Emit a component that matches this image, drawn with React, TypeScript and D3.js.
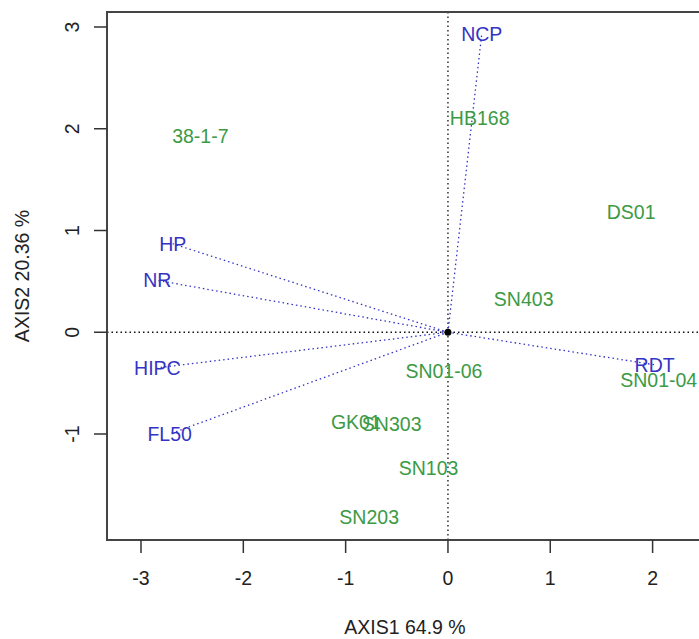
import React from "react";
import * as d3 from "d3";

// individuals (green labels)
const indNames = ["38-1-7", "HB168", "DS01", "SN403", "SN01-06", "SN01-04", "GK01", "SN303", "SN103", "SN203"];
const indX = [-2.42, 0.31, 1.79, 0.74, -0.04, 2.06, -0.9, -0.55, -0.19, -0.77];
const indY = [1.93, 2.11, 1.18, 0.33, -0.38, -0.47, -0.88, -0.9, -1.33, -1.82];

// variables (blue arrows)
const varNames = ["NCP", "HP", "NR", "HIPC", "FL50", "RDT"];
const varX = [0.33, -2.69, -2.84, -2.84, -2.72, 2.02];
const varY = [2.93, 0.87, 0.51, -0.35, -1.0, -0.32];

const xTicks = [-3, -2, -1, 0, 1, 2];
const yTicks = [-1, 0, 1, 2, 3];

const xTitle = "AXIS1 64.9 %";
const yTitle = "AXIS2 20.36 %";

const W = 699;
const H = 639;
const box = { left: 107, right: 703, top: 12, bottom: 540 };

const green = "#3c9a45";
const blue = "#3434c4";
const font = "'Liberation Sans', Arial, Helvetica, sans-serif";

export default function App() {
  const x = d3.scaleLinear().domain([-3, 2]).range([141, 652.6]);
  const y = d3.scaleLinear().domain([-1, 3]).range([434, 27]);

  return (
    <svg
      width={W}
      height={H}
      style={{ position: "absolute", left: 0, top: 0, background: "#fff" }}
      fontFamily={font}
    >
      <defs>
        <clipPath id="plotClip">
          <rect x={box.left} y={box.top} width={box.right - box.left} height={box.bottom - box.top} />
        </clipPath>
      </defs>

      <g clipPath="url(#plotClip)">
        {/* reference lines through origin */}
        <line x1={box.left} x2={box.right} y1={y(0)} y2={y(0)} stroke="#111" strokeDasharray="1.5 3" strokeWidth={1.3} />
        <line x1={x(0)} x2={x(0)} y1={box.top} y2={box.bottom} stroke="#111" strokeDasharray="1.5 3" strokeWidth={1.3} />

        {/* variable arrows */}
        {varNames.map((name, i) => (
          <line
            key={"a" + name}
            x1={x(0)}
            y1={y(0)}
            x2={x(varX[i])}
            y2={y(varY[i])}
            stroke={blue}
            strokeDasharray="1.5 3"
            strokeWidth={1.3}
          />
        ))}

        <circle cx={x(0)} cy={y(0)} r={3.5} fill="#000" />

        {indNames.map((name, i) => (
          <text
            key={"i" + name}
            x={x(indX[i])}
            y={y(indY[i])}
            textAnchor="middle"
            dominantBaseline="central"
            fontSize={19.5}
            fill={green}
          >
            {name}
          </text>
        ))}

        {varNames.map((name, i) => (
          <text
            key={"v" + name}
            x={x(varX[i])}
            y={y(varY[i])}
            textAnchor="middle"
            dominantBaseline="central"
            fontSize={19.5}
            fill={blue}
          >
            {name}
          </text>
        ))}
      </g>

      <rect
        x={box.left}
        y={box.top}
        width={box.right - box.left}
        height={box.bottom - box.top}
        fill="none"
        stroke="#444"
        strokeWidth={2}
      />

      {/* x axis */}
      {xTicks.map((t) => (
        <g key={"xt" + t}>
          <line x1={x(t)} x2={x(t)} y1={box.bottom} y2={box.bottom + 13} stroke="#333" strokeWidth={1.5} />
          <text x={x(t)} y={578} textAnchor="middle" dominantBaseline="central" fontSize={19.5} fill="#222">
            {t}
          </text>
        </g>
      ))}
      <text x={(box.left + box.right) / 2} y={627} textAnchor="middle" dominantBaseline="central" fontSize={19.5} fill="#222">
        {xTitle}
      </text>

      {/* y axis */}
      {yTicks.map((t) => (
        <g key={"yt" + t}>
          <line x1={box.left - 13} x2={box.left} y1={y(t)} y2={y(t)} stroke="#333" strokeWidth={1.5} />
          <text
            transform={`translate(72,${y(t)}) rotate(-90)`}
            textAnchor="middle"
            dominantBaseline="central"
            fontSize={19.5}
            fill="#222"
          >
            {t}
          </text>
        </g>
      ))}
      <text
        transform={`translate(22,${(box.top + box.bottom) / 2}) rotate(-90)`}
        textAnchor="middle"
        dominantBaseline="central"
        fontSize={19.5}
        fill="#222"
      >
        {yTitle}
      </text>
    </svg>
  );
}
